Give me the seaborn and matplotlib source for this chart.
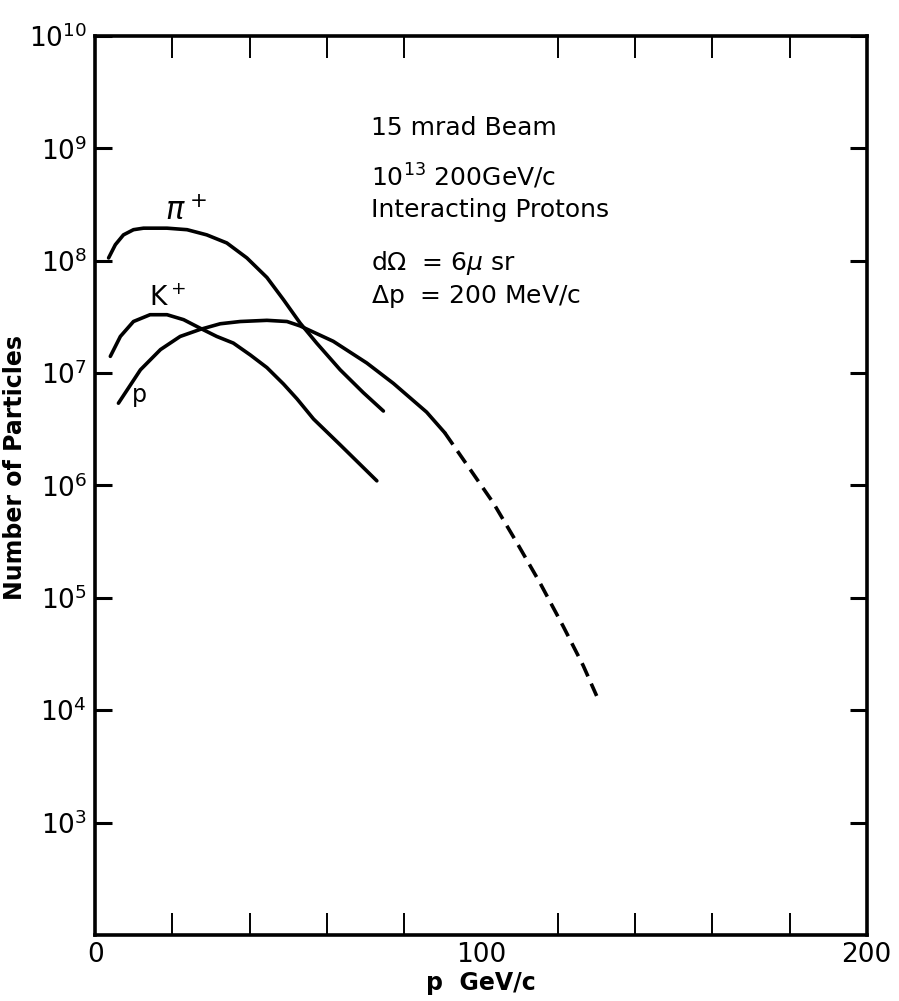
import numpy as np
import pandas as pd
import seaborn as sns
import matplotlib.pyplot as plt

# values (momentum in GeV/c, number of particles)
pi_x = [3.45, 5.2, 7.3, 9.9, 12.5, 18.6, 23.8, 28.9, 34.1, 39.3, 44.5, 48.8, 53.1, 57.4, 63.5, 69.5, 74.7]
pi_y = [1.06e8, 1.39e8, 1.70e8, 1.89e8, 1.95e8, 1.95e8, 1.89e8, 1.70e8, 1.44e8, 1.06e8, 7.1e7, 4.5e7,
        2.79e7, 1.85e7, 1.07e7, 6.7e6, 4.6e6]

k_x = [3.9, 6.5, 9.9, 14.2, 18.6, 22.9, 27.2, 31.5, 35.8, 40.2, 44.5, 48.8, 52.3, 56.6, 63.5, 73.0]
k_y = [1.41e7, 2.12e7, 2.88e7, 3.31e7, 3.31e7, 2.99e7, 2.51e7, 2.12e7, 1.85e7, 1.45e7, 1.12e7, 8.0e6,
       5.9e6, 3.9e6, 2.3e6, 1.1e6]

p_x = [6.0, 11.7, 16.9, 22.0, 27.2, 32.4, 37.6, 44.5, 49.7, 53.1, 61.7, 70.4, 77.3, 85.9, 90.6]
p_y = [5.4e6, 1.07e7, 1.62e7, 2.12e7, 2.45e7, 2.75e7, 2.88e7, 2.95e7, 2.88e7, 2.63e7, 1.92e7, 1.23e7,
       8.1e6, 4.5e6, 2.95e6]

# dashed extrapolation of the proton curve
p_ext_x = [90.6, 97.2, 103.2, 109.3, 115.3, 121.3, 126.5, 130.0]
p_ext_y = [2.95e6, 1.39e6, 7.0e5, 3.1e5, 1.36e5, 5.6e4, 2.5e4, 1.34e4]

decades = [3, 4, 5, 6, 7, 8, 9, 10]
x_major = [0, 100, 200]
x_minor = [20, 40, 60, 80, 100, 120, 140, 160, 180]

sns.set_style("ticks")
plt.rcParams['font.family'] = ['DejaVu Sans']
plt.rcParams['mathtext.fontset'] = 'dejavusans'
for k in ['text.color', 'axes.labelcolor', 'xtick.color', 'ytick.color', 'axes.edgecolor']:
    plt.rcParams[k] = 'black'

fig = plt.figure(figsize=(8.99, 10.01), dpi=100)
ax = fig.add_axes([0.106, 0.066, 0.858, 0.898])

lw = 2.6
sns.lineplot(x=pi_x, y=pi_y, ax=ax, color='black', lw=lw, estimator=None)
sns.lineplot(x=k_x, y=k_y, ax=ax, color='black', lw=lw, estimator=None)
sns.lineplot(x=p_x, y=p_y, ax=ax, color='black', lw=lw, estimator=None)
sns.lineplot(x=p_ext_x, y=p_ext_y, ax=ax, color='black', lw=lw, estimator=None,
             linestyle=(0, (4, 2.2)))

ax.set_yscale('log')
ax.set_xlim(0, 200)
ax.set_ylim(1e2, 1e10)

ax.set_xticks(x_major)
ax.set_xticklabels([str(v) for v in x_major], fontsize=19)
ax.set_xticks(x_minor, minor=True)
ax.set_yticks([10.0 ** d for d in decades])
ax.set_yticklabels([r'$10^{%d}$' % d for d in decades], fontsize=19)
ax.yaxis.set_minor_locator(plt.NullLocator())

ax.tick_params(axis='x', which='major', direction='in', length=0, pad=5)
ax.tick_params(axis='x', which='minor', direction='in', length=16, width=1.4, top=True, bottom=True)
ax.tick_params(axis='y', which='major', direction='in', length=12, width=2.2, left=True, right=True, pad=6)
for s in ax.spines.values():
    s.set_linewidth(2.6)

ax.set_xlabel('p  GeV/c', fontsize=17, fontweight='bold', labelpad=2)
ax.set_ylabel('Number of Particles', fontsize=17, fontweight='bold')
ax.yaxis.set_label_coords(-0.089, 0.52)

# curve labels
ax.text(18, 2.05e8, r'$\pi^+$', fontsize=22, ha='left', va='bottom')
ax.text(14, 3.5e7, r'$\mathrm{K}^+$', fontsize=19, ha='left', va='bottom')
ax.text(9.5, 5.0e6, 'p', fontsize=17, ha='left', va='bottom')

# beam conditions
tx = 71.5
fs = 18
ax.text(tx, 1.52e9, '15 mrad Beam', fontsize=fs, va='center')
ax.text(tx, 5.6e8, r'$10^{13}$ 200GeV/c', fontsize=fs, va='center')
ax.text(tx, 2.84e8, 'Interacting Protons', fontsize=fs, va='center')
ax.text(tx, 9.6e7, r'd$\Omega$  = 6$\mu$ sr', fontsize=fs, va='center')
ax.text(tx, 4.8e7, r'$\Delta$p  = 200 MeV/c', fontsize=fs, va='center')

fig.savefig('out.png', dpi=100)
